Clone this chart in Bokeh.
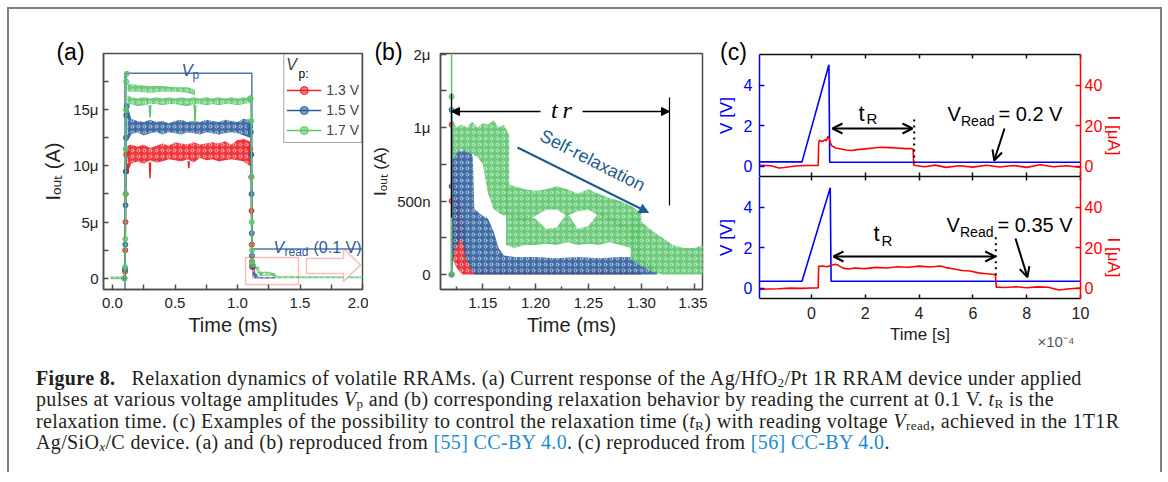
import math
from bokeh.plotting import figure
from bokeh.models import (Range1d, LinearAxis, FixedTicker, Label, Arrow, NormalHead,
                          OpenHead, BoxAnnotation, PolyAnnotation, Legend, LegendItem, Div,
                          NumeralTickFormatter)
from bokeh.layouts import row, column
from bokeh.embed import file_html
from bokeh.resources import INLINE

SANS = "Liberation Sans"
SERIF = "Liberation Serif"
RED = "#ec2027"
BLUE = "#2c5d9c"
GREEN = "#5cc46c"
AXC = "#4d4d4d"
PULSE = "#4a78b4"
DARKBLUE = "#1d5d8d"

# ======================= DATA =======================
# ---- panel (a): current (uA) vs time (ms) during the pulse ----
plat_t = [0.12, 0.15, 0.2, 0.25, 0.3, 0.35, 0.4, 0.45, 0.5, 0.55, 0.6, 0.65, 0.7, 0.75,
          0.8, 0.85, 0.9, 0.95, 1.0, 1.05, 1.1, 1.112]
red_hi = [11.8, 11.9, 11.7, 11.9, 11.6, 11.8, 12.0, 11.8, 12.1, 12.0, 11.9, 12.1, 11.9, 12.0,
          12.1, 12.0, 12.2, 11.9, 12.3, 12.4, 12.2, 11.8]
red_lo = [9.4, 10.2, 10.4, 10.2, 10.5, 10.3, 10.4, 10.6, 10.5, 10.4, 10.6, 10.3, 10.7, 10.5,
          10.6, 10.4, 10.5, 10.6, 10.5, 10.4, 10.0, 9.8]
blue_hi = [15.3, 14.2, 14.0, 13.9, 14.1, 13.9, 14.0, 13.8, 14.0, 14.1, 13.9, 14.0, 13.9, 14.1,
           14.0, 13.9, 14.1, 14.0, 13.9, 14.2, 14.1, 13.9]
blue_lo = [12.2, 12.8, 13.0, 12.7, 12.9, 13.0, 12.8, 13.0, 12.9, 12.8, 13.0, 12.9, 12.8, 13.0,
           12.9, 12.8, 12.9, 13.0, 12.9, 12.7, 12.5, 12.3]
green_hi = [16.3, 16.1, 16.0, 16.1, 16.0, 16.1, 16.0, 16.1, 16.0, 16.1, 16.0, 16.1, 16.0, 16.1,
            16.0, 16.1, 16.0, 16.1, 16.0, 16.1, 16.0, 16.1]
green_lo = [15.4, 15.5, 15.3, 15.4, 15.5, 15.5, 15.4, 15.5, 15.5, 15.4, 15.3, 15.5, 15.5, 15.4,
            15.5, 15.4, 15.5, 15.5, 15.4, 15.5, 15.6, 15.5]
gup_t = [0.12, 0.2, 0.3, 0.4, 0.5, 0.6, 0.66]
gup_hi = [17.3, 17.2, 17.1, 17.1, 17.0, 17.0, 16.8]
gup_lo = [16.6, 16.6, 16.5, 16.6, 16.6, 16.5, 16.3]
red_dips_t = [[0.12, 0.124, 0.128], [0.296, 0.30, 0.304], [0.606, 0.61, 0.614]]
red_dips_v = [[10.2, 9.3, 10.2], [10.3, 8.9, 10.3], [10.4, 9.8, 10.4]]
green_dips_t = [[0.294, 0.30, 0.306], [0.654, 0.66, 0.666]]
green_dips_v = [[15.4, 14.3, 15.4], [15.5, 13.8, 15.4]]
rise_t = [0.095, 0.100, 0.102, 0.104, 0.106, 0.108, 0.110, 0.114]
red_rise = [0.0, 0.6, 2.5, 5.0, 7.5, 9.5, 11.0, 11.2]
blue_rise = [0.0, 0.8, 3.0, 6.5, 9.5, 12.5, 14.5, 15.3]
green_rise = [0.0, 1.0, 3.5, 7.5, 11.5, 15.0, 17.5, 18.2]
fall_t = [1.100, 1.106, 1.110, 1.112, 1.114, 1.116, 1.118, 1.1205]
red_fall = [11.5, 11.0, 9.0, 6.0, 3.0, 1.5, 1.0, 1.02]
blue_fall = [13.5, 13.0, 11.0, 7.5, 4.0, 2.0, 1.2, 1.12]
green_fall = [16.0, 16.0, 14.0, 9.0, 5.0, 2.5, 1.5, 1.21]
base_t = [-0.015, 0.095]
base_hi = [0.15, 0.15]
base_lo = [-0.08, -0.08]
pulse_t = [0.1, 0.1, 1.115, 1.115, 2.0]
pulse_v = [-1.0, 18.25, 18.25, 2.6, 2.6]

# ---- panel (b): relaxation after the pulse (uA vs ms) ----
rt_t = [1.1205, 1.122, 1.125, 1.128, 1.131, 1.134, 1.137, 1.139, 1.16, 1.22, 1.28, 1.30]
rt_hi = [1.02, 0.95, 0.55, 0.50, 0.40, 0.25, 0.10, 0.04, 0.03, 0.03, 0.03, 0.02]
rt_lo = [0.30, 0.10, 0.05, 0.02, 0.0, 0.0, 0.0, 0.0, 0.0, 0.0, 0.0, 0.0]
bt_t = [1.1205, 1.123, 1.126, 1.13, 1.134, 1.138, 1.1405, 1.142, 1.146, 1.15, 1.155, 1.16,
        1.165, 1.17, 1.18, 1.20, 1.22, 1.24, 1.26, 1.28, 1.29, 1.30, 1.31, 1.315]
bt_hi = [1.12, 0.86, 0.85, 0.84, 0.86, 0.85, 0.80, 0.45, 0.42, 0.40, 0.38, 0.30, 0.18, 0.13,
         0.12, 0.12, 0.11, 0.12, 0.11, 0.12, 0.12, 0.10, 0.06, 0.02]
bt_lo = [0.0, 0.15, 0.20, 0.25, 0.10, 0.05, 0.02, 0.0, 0.0, 0.0, 0.0, 0.0, 0.0, 0.0, 0.0, 0.0,
         0.0, 0.0, 0.0, 0.0, 0.0, 0.0, 0.0, 0.0]
g1_t = [1.1215, 1.125, 1.13, 1.135, 1.14, 1.145, 1.15, 1.155, 1.16, 1.165, 1.17, 1.175]
g1_hi = [1.05, 1.0, 1.02, 1.0, 1.04, 1.0, 1.03, 1.02, 1.05, 1.0, 1.02, 0.95]
g1_lo = [0.78, 0.82, 0.85, 0.83, 0.82, 0.80, 0.75, 0.55, 0.45, 0.42, 0.40, 0.42]
g2_t = [1.172, 1.18, 1.19, 1.20, 1.21, 1.22, 1.23, 1.24, 1.25, 1.26, 1.27, 1.28, 1.29, 1.30]
g2_hi = [0.62, 0.60, 0.58, 0.57, 0.58, 0.60, 0.58, 0.55, 0.58, 0.55, 0.52, 0.50, 0.47, 0.42]
g2_lo = [0.40, 0.38, 0.36, 0.40, 0.44, 0.44, 0.40, 0.43, 0.44, 0.40, 0.36, 0.32, 0.30, 0.28]
g3_hi = [0.42, 0.40, 0.40, 0.38, 0.31, 0.32, 0.42, 0.31, 0.33, 0.42, 0.40, 0.36, 0.33, 0.30]
g3_lo = [0.20, 0.18, 0.20, 0.20, 0.21, 0.20, 0.22, 0.20, 0.21, 0.20, 0.22, 0.20, 0.18, 0.10]
g4_t = [1.29, 1.30, 1.31, 1.32, 1.33, 1.34, 1.35, 1.36, 2.0]
g4_hi = [0.40, 0.36, 0.30, 0.25, 0.20, 0.18, 0.18, 0.20, 0.15]
g4_lo = [0.10, 0.06, 0.02, 0.0, 0.0, 0.0, 0.0, 0.0, 0.0]
spike_t = [1.1205, 1.1205, 1.1205]
red_spike = [0.0, 0.5, 1.02]
blue_spike = [0.0, 0.6, 1.12]
green_spike = [0.0, 1.21, 2.2]

# ---- panel (c): voltage (V) and current (uA) vs time (1e-4 s) ----
c1_vt = [-1.93, -0.35, 0.65, 0.68, 10.0]
c1_v = [0.22, 0.22, 5.0, 0.2, 0.2]
c1_it = [-1.93, -1.5, -1.2, -1.0, -0.6, -0.2, 0.25, 0.27, 0.3, 0.4, 0.5, 0.55, 0.62, 0.66,
         0.72, 0.75, 0.9, 1.1, 1.3, 1.5, 1.7, 2.0, 2.3, 2.6, 2.9, 3.2, 3.5, 3.7, 3.78, 3.8,
         4.2, 4.6, 5.0, 5.5, 6.0, 6.5, 7.0, 7.5, 8.0, 8.5, 9.0, 9.5, 10.0]
c1_i = [0.5, 0.3, -0.8, -0.6, 0.2, 0.4, 0.4, 11.5, 12.8, 12.2, 13.0, 12.5, 14.8, 13.5,
        11.0, 10.2, 9.0, 8.5, 8.0, 7.8, 8.2, 8.6, 9.0, 9.4, 9.2, 9.0, 8.7, 8.8, 8.5, 0.5,
        -0.2, 0.6, -0.5, 0.3, -0.4, 0.5, -0.3, 0.4, -0.5, 0.8, -0.2, 0.3, -0.6]
c2_vt = [-1.93, -0.35, 0.7, 0.73, 10.0]
c2_v = [0.35, 0.35, 4.95, 0.35, 0.35]
c2_it = [-1.93, -1.6, -1.2, -0.8, -0.4, 0.0, 0.25, 0.27, 0.4, 0.6, 0.7, 0.9, 1.0, 1.2, 1.4,
         1.6, 1.8, 2.0, 2.4, 2.8, 3.2, 3.6, 4.0, 4.4, 4.8, 5.0, 5.3, 5.6, 5.9, 6.2, 6.5, 6.8,
         6.84, 6.87, 7.2, 7.6, 8.0, 8.4, 8.8, 9.2, 9.5, 10.0]
c2_i = [-0.5, -0.3, -0.2, 0.1, 0.0, 0.2, 0.2, 10.8, 11.0, 10.6, 11.2, 11.8, 11.3, 9.8, 9.5,
        10.0, 9.8, 9.7, 10.3, 10.0, 10.6, 10.4, 10.9, 10.5, 11.0, 10.2, 9.5, 8.8, 8.5, 7.6,
        7.2, 6.8, 6.4, 0.6, 0.4, 0.8, 0.3, 0.7, 0.5, -0.8, -0.3, 0.2]

a_xticks = [0.0, 0.5, 1.0, 1.5, 2.0]
a_yticks = [0, 5, 10, 15]
a_ylabels = {0: "0", 5: "5\u03bc", 10: "10\u03bc", 15: "15\u03bc"}
b_xticks = [1.15, 1.20, 1.25, 1.30, 1.35]
b_yticks = [0, 0.5, 1.0, 1.5]
b_ylabels = {0: "0", 0.5: "500n", 1: "1\u03bc", 1.5: "2\u03bc"}
c_xticks = [0, 2, 4, 6, 8, 10]
series_names = ["1.3 V", "1.5 V", "1.7 V"]

# ======================= HELPERS =======================
XA, YA = (-0.072, 2.0), (-1.0, 20.0)
XB, YB = (1.11, 1.358), (-0.102, 1.504)
XC, YC, YI = (-1.93, 10.0), (-0.5, 5.5), (-5.0, 55.0)


def pmap(xr, yr, fl, fr, ft, fb):
    def f(px, py):
        return (xr[0] + (px - fl) * (xr[1] - xr[0]) / (fr - fl),
                yr[0] + (fb - py) * (yr[1] - yr[0]) / (fb - ft))
    return f


PA = pmap(XA, YA, 103, 362, 53, 289)
PB = pmap(XB, YB, 438, 700, 53, 289)
PC1 = pmap(XC, YC, 757, 1078, 54, 176)
PC2 = pmap(XC, YC, 757, 1078, 176, 298)


def lab(p, pm, px, py, text, size, color="black", style="normal", align="left",
        baseline="alphabetic", angle=0.0, font=SANS, side=None):
    x, y = pm(px, py)
    lb = Label(x=x, y=y, text=text, text_font=font, text_font_size=f"{size}px",
               text_color=color, text_font_style=style, text_align=align,
               text_baseline=baseline, angle=angle)
    if side:
        p.add_layout(lb, side)
    else:
        p.add_layout(lb)


def arrow(p, pm, p0, p1, start=None, end=None, color="black", width=1.5, dash="solid"):
    x0, y0 = pm(*p0)
    x1, y1 = pm(*p1)
    p.add_layout(Arrow(x_start=x0, y_start=y0, x_end=x1, y_end=y1, start=start, end=end,
                       line_color=color, line_width=width, line_dash=dash))


def mkfig(fw, fh, xr, yr, ml, mr, mt, mb, **kw):
    p = figure(frame_width=fw, frame_height=fh, x_range=Range1d(*xr), y_range=Range1d(*yr),
               min_border_left=ml, min_border_right=mr, min_border_top=mt,
               min_border_bottom=mb, output_backend="svg", toolbar_location=None, **kw)
    p.grid.visible = False
    p.background_fill_color = "white"
    p.border_fill_color = "white"
    return p


def style_axis(ax, color=AXC, fs="15px", tin=5, tout=0, min_in=5, standoff=6):
    ax.axis_line_color = color
    ax.axis_line_width = 1.5
    ax.major_tick_line_color = color
    ax.minor_tick_line_color = color
    ax.major_tick_line_width = 1.5
    ax.minor_tick_line_width = 1.5
    ax.major_tick_in = tin
    ax.major_tick_out = tout
    ax.minor_tick_in = min_in
    ax.minor_tick_out = 0
    ax.major_label_text_font = SANS
    ax.major_label_text_font_size = fs
    ax.major_label_text_color = color if color != AXC else "#222222"
    ax.major_label_standoff = standoff
    ax.axis_label_text_font = SANS
    ax.axis_label_text_font_style = "normal"
    ax.axis_label_text_color = color if color != AXC else "#222222"


def band(p, t, lo, hi, color):
    p.varea(x=t, y1=lo, y2=hi, fill_color=color, fill_alpha=0.9,
            hatch_pattern="ring", hatch_color="white", hatch_alpha=0.55,
            hatch_scale=6, hatch_weight=1)


def edge(p, t, v, color):
    ln = p.line(t, v, line_color=color, line_width=1.5)
    sc = p.scatter(t, v, marker="circle", size=5, fill_color=color, fill_alpha=0.6,
                   line_color=color)
    return ln, sc


# hollow "zoom" arrow pointing from panel (a) towards panel (b), kept inside frame (a)
arrow_px = [(306, 258), (343, 258), (343, 248), (360, 264.5), (343, 281), (343, 273), (306, 273)]

# ======================= PANEL (a) =======================
pa = mkfig(259, 236, XA, YA, 94, 6, 44, 66)
pa.outline_line_color = AXC
pa.outline_line_width = 1.5
style_axis(pa.xaxis[0], fs="15px", standoff=8)
style_axis(pa.yaxis[0], fs="15px", standoff=5)
pa.xaxis[0].ticker = FixedTicker(ticks=a_xticks, minor_ticks=[0.25, 0.75, 1.25, 1.75])
pa.xaxis[0].formatter = NumeralTickFormatter(format="0.0")
pa.yaxis[0].ticker = FixedTicker(ticks=a_yticks, minor_ticks=[2.5, 7.5, 12.5, 17.5])
pa.yaxis[0].major_label_overrides = a_ylabels
pa.xaxis[0].axis_label = "Time (ms)"
pa.xaxis[0].axis_label_text_font_size = "20px"
pa.xaxis[0].axis_label_standoff = 3
pa.yaxis[0].axis_label = "I\u2092\u1d64\u209c (A)"
pa.yaxis[0].axis_label_text_font_size = "20px"
pa.yaxis[0].axis_label_standoff = 6

pa.line(pulse_t, pulse_v, line_color=PULSE, line_width=1.5)
band(pa, base_t, base_lo, base_hi, GREEN)
band(pa, plat_t, red_lo, red_hi, RED)
pa.multi_line(red_dips_t, red_dips_v, line_color=RED, line_width=1.5)
band(pa, plat_t, blue_lo, blue_hi, BLUE)
band(pa, plat_t, green_lo, green_hi, GREEN)
band(pa, gup_t, gup_lo, gup_hi, GREEN)
pa.multi_line(green_dips_t, green_dips_v, line_color=GREEN, line_width=1.5)
band(pa, rt_t, rt_lo, rt_hi, RED)
band(pa, bt_t, bt_lo, bt_hi, BLUE)
band(pa, g1_t, g1_lo, g1_hi, GREEN)
band(pa, g2_t, g2_lo, g2_hi, GREEN)
band(pa, g2_t, g3_lo, g3_hi, GREEN)
band(pa, g4_t, g4_lo, g4_hi, GREEN)
leg_r = []
for col, rise, fall in [(RED, red_rise, red_fall), (BLUE, blue_rise, blue_fall),
                        (GREEN, green_rise, green_fall)]:
    leg_r.append(edge(pa, rise_t, rise, col))
    edge(pa, fall_t, fall, col)

box = BoxAnnotation(left=PA(245, 0)[0], right=PA(298, 0)[0], bottom=PA(0, 284)[1],
                    top=PA(0, 257)[1], fill_alpha=0, line_color=RED, line_width=1.5)
pa.add_layout(box)
pa.add_layout(PolyAnnotation(xs=[PA(*q)[0] for q in arrow_px], ys=[PA(*q)[1] for q in arrow_px],
                             fill_color="white", fill_alpha=1, line_color=RED, line_width=1.5))

legend = Legend(items=[LegendItem(label=n, renderers=list(r)) for n, r in zip(series_names, leg_r)],
                location="top_right", margin=0, padding=2, spacing=0, glyph_width=35,
                glyph_height=20, label_height=20, label_standoff=5, label_text_font=SANS,
                label_text_font_size="14px", title="V", title_text_font_style="italic",
                title_text_font_size="16px", title_text_font=SANS, title_standoff=6,
                border_line_color=AXC, border_line_width=1.5, background_fill_alpha=0)
pa.add_layout(legend)
lab(pa, PA, 298, 73, "p:", 12)

lab(pa, PA, 70, 51, "(a)", 23, align="center", baseline="middle", side="above")
lab(pa, PA, 181, 70, "V", 17, color="#2e5a9c", style="italic")
lab(pa, PA, 192, 74, "p", 12, color="#2e5a9c")
lab(pa, PA, 273, 247, "V", 16, color="#2e5a9c", style="italic")
lab(pa, PA, 284, 251, "read", 12, color="#2e5a9c")
lab(pa, PA, 313, 247, "(0.1 V)", 16, color="#2e5a9c")

# ======================= PANEL (b) =======================
pb = mkfig(262, 236, XB, YB, 70, 5, 44, 66)
pb.outline_line_color = AXC
pb.outline_line_width = 1.5
style_axis(pb.xaxis[0], fs="15px", tin=6, min_in=3, standoff=8)
style_axis(pb.yaxis[0], fs="15px", tin=6, min_in=6, standoff=10)
pb.xaxis[0].ticker = FixedTicker(ticks=b_xticks, minor_ticks=[1.125, 1.175, 1.225, 1.275, 1.325])
pb.xaxis[0].formatter = NumeralTickFormatter(format="0.00")
pb.yaxis[0].ticker = FixedTicker(ticks=b_yticks, minor_ticks=[0.25, 0.75, 1.25])
pb.yaxis[0].major_label_overrides = b_ylabels
pb.xaxis[0].axis_label = "Time (ms)"
pb.xaxis[0].axis_label_text_font_size = "20px"
pb.xaxis[0].axis_label_standoff = 3
pb.yaxis[0].axis_label = "I\u2092\u1d64\u209c (A)"
pb.yaxis[0].axis_label_text_font_size = "17px"
pb.yaxis[0].axis_label_standoff = 4

band(pb, rt_t, rt_lo, rt_hi, RED)
edge(pb, spike_t, red_spike, RED)
band(pb, bt_t, bt_lo, bt_hi, BLUE)
edge(pb, spike_t, blue_spike, BLUE)
band(pb, g1_t, g1_lo, g1_hi, GREEN)
band(pb, g2_t, g2_lo, g2_hi, GREEN)
band(pb, g2_t, g3_lo, g3_hi, GREEN)
band(pb, g4_t, g4_lo, g4_hi, GREEN)
edge(pb, spike_t, green_spike, GREEN)

arrow(pb, PB, (449, 93), (449, 217), width=1.2)
arrow(pb, PB, (667, 97), (667, 205), width=1.2)
arrow(pb, PB, (538, 111), (449, 111), end=NormalHead(size=8, fill_color="black", line_color="black"))
arrow(pb, PB, (580, 111), (667, 111), end=NormalHead(size=8, fill_color="black", line_color="black"))
lab(pb, PB, 559, 109, "t\u2009r", 24, style="italic", align="center", baseline="middle", font=SERIF)
arrow(pb, PB, (515, 147), (646, 212), color=DARKBLUE, width=2,
      end=NormalHead(size=9, fill_color=DARKBLUE, line_color=DARKBLUE))
lab(pb, PB, 590, 160, "Self-relaxation", 18, color=DARKBLUE, align="center",
    baseline="middle", angle=-0.47)
lab(pb, PB, 386, 51, "(b)", 23, align="center", baseline="middle", side="above")

# ======================= PANEL (c) =======================


def cfig(mt, mb, bottom_labels):
    p = mkfig(321, 122, XC, YC, 52, 80, mt, mb)
    p.outline_line_color = None
    p.extra_y_ranges = {"I": Range1d(*YI)}
    yl = p.yaxis[0]
    style_axis(yl, color="#0000ff", fs="16px", tin=5, min_in=0, standoff=7)
    yl.ticker = FixedTicker(ticks=[0, 2, 4], minor_ticks=[])
    yl.axis_label = "V [V]"
    yl.axis_label_text_font_size = "17px"
    yl.axis_label_standoff = 5
    yr = LinearAxis(y_range_name="I")
    style_axis(yr, color="#ff0000", fs="16px", tin=5, min_in=0, standoff=4)
    yr.ticker = FixedTicker(ticks=[0, 20, 40], minor_ticks=[])
    yr.axis_label = "I [\u03bcA]"
    yr.axis_label_text_font_size = "17px"
    yr.axis_label_standoff = 8
    yr.axis_label_orientation = -math.pi / 2
    p.add_layout(yr, "right")
    xb = p.xaxis[0]
    xt = LinearAxis()
    style_axis(xt, color="#111111", fs="16px", tin=4, min_in=4, standoff=0)
    xt.ticker = FixedTicker(ticks=[], minor_ticks=c_xticks)
    p.add_layout(xt, "above")
    if bottom_labels:
        style_axis(xb, color="#111111", fs="16px", tin=4, min_in=0, standoff=8)
        xb.ticker = FixedTicker(ticks=c_xticks, minor_ticks=[])
        xb.major_label_text_color = "#222222"
        xb.axis_label = "Time [s]"
        xb.axis_label_text_color = "#222222"
        xb.axis_label_text_font_size = "17px"
        xb.axis_label_standoff = 3
    else:
        style_axis(xb, color="#111111", fs="16px", tin=4, min_in=4, standoff=0)
        xb.ticker = FixedTicker(ticks=[], minor_ticks=c_xticks)
    return p


pc1 = cfig(45, 0, False)
pc1.line(c1_vt, c1_v, line_color="#0000ff", line_width=1.6)
pc1.line(c1_it, c1_i, line_color="#ff0000", line_width=1.6, y_range_name="I")
lab(pc1, PC1, 731, 51, "(c)", 23, align="center", baseline="middle", side="above")
lab(pc1, PC1, 856, 113, "t", 22)
lab(pc1, PC1, 864, 118, "R", 15)
arrow(pc1, PC1, (830, 128), (910, 128), start=OpenHead(size=10, line_width=2),
      end=OpenHead(size=10, line_width=2), width=2)
arrow(pc1, PC1, (911.7, 119), (911.7, 164), width=2, dash="dotted")
lab(pc1, PC1, 945, 113, "V", 20)
lab(pc1, PC1, 958.5, 120, "Read", 14)
lab(pc1, PC1, 996, 113, "= 0.2 V", 20)
arrow(pc1, PC1, (1002, 128), (991.7, 160), end=OpenHead(size=10, line_width=2), width=2)

pc2 = cfig(0, 68, True)
pc2.line(c2_vt, c2_v, line_color="#0000ff", line_width=1.6)
pc2.line(c2_it, c2_i, line_color="#ff0000", line_width=1.6, y_range_name="I")
lab(pc2, PC2, 871, 233, "t", 22)
lab(pc2, PC2, 879, 240, "R", 15)
arrow(pc2, PC2, (831, 256), (992.7, 256), start=OpenHead(size=10, line_width=2),
      end=OpenHead(size=10, line_width=2), width=2)
arrow(pc2, PC2, (993.3, 236.7), (993.3, 276.7), width=2, dash="dotted")
lab(pc2, PC2, 944, 224, "V", 20)
lab(pc2, PC2, 957.5, 231, "Read", 14)
lab(pc2, PC2, 995, 224, "= 0.35 V", 20)
arrow(pc2, PC2, (1013, 238), (1025, 276.7), end=OpenHead(size=10, line_width=2), width=2)
lab(pc2, PC2, 1035, 341, "\u00d710\u207b\u2074", 15, color="#555555", side="below")

# ======================= CAPTION =======================
LINK = "color:#1a8ad4"
SUB = "font-size:66%;line-height:0;vertical-align:-2px"
caption = (
    f"<div style=\"font-family:'{SERIF}';font-size:20px;letter-spacing:0.35px;line-height:21.3px;"
    f"color:#231f20;white-space:nowrap;padding:2px 0 0 27px\">"
    "<b>Figure 8.</b>&nbsp;&nbsp; Relaxation dynamics of volatile RRAMs. (a) Current response of the "
    f"Ag/HfO<span style='{SUB}'>2</span>/Pt 1R RRAM device under applied<br>"
    f"pulses at various voltage amplitudes <i>V</i><span style='{SUB}'>p</span> and (b) corresponding "
    f"relaxation behavior by reading the current at 0.1 V. <i>t</i><span style='{SUB}'>R</span> is the<br>"
    "relaxation time. (c) Examples of the possibility to control the relaxation time "
    f"(<i>t</i><span style='{SUB}'>R</span>) with reading voltage <i>V</i><span style='{SUB}'>read</span>, "
    "achieved in the 1T1R<br>"
    f"Ag/SiO<span style='{SUB}'><i>x</i></span>/C device. (a) and (b) reproduced from "
    f"<span style='{LINK}'>[55]</span> <span style='{LINK}'>CC-BY 4.0</span>. (c) reproduced from "
    f"<span style='{LINK}'>[56]</span> <span style='{LINK}'>CC-BY 4.0</span>."
    "</div>"
)
div = Div(text=caption, width=1149, height=106, margin=(0, 0, 0, 0))

layout = column(
    row(pa, pb, column(pc1, pc2, spacing=0), spacing=0),
    div,
    spacing=0,
    margin=(7, 0, 0, 7),
    styles={"border-top": "2px solid #7f7f7f", "border-left": "2px solid #7f7f7f",
            "border-right": "2px solid #7f7f7f"},
)

open("out.html", "w").write(file_html(layout, INLINE))
